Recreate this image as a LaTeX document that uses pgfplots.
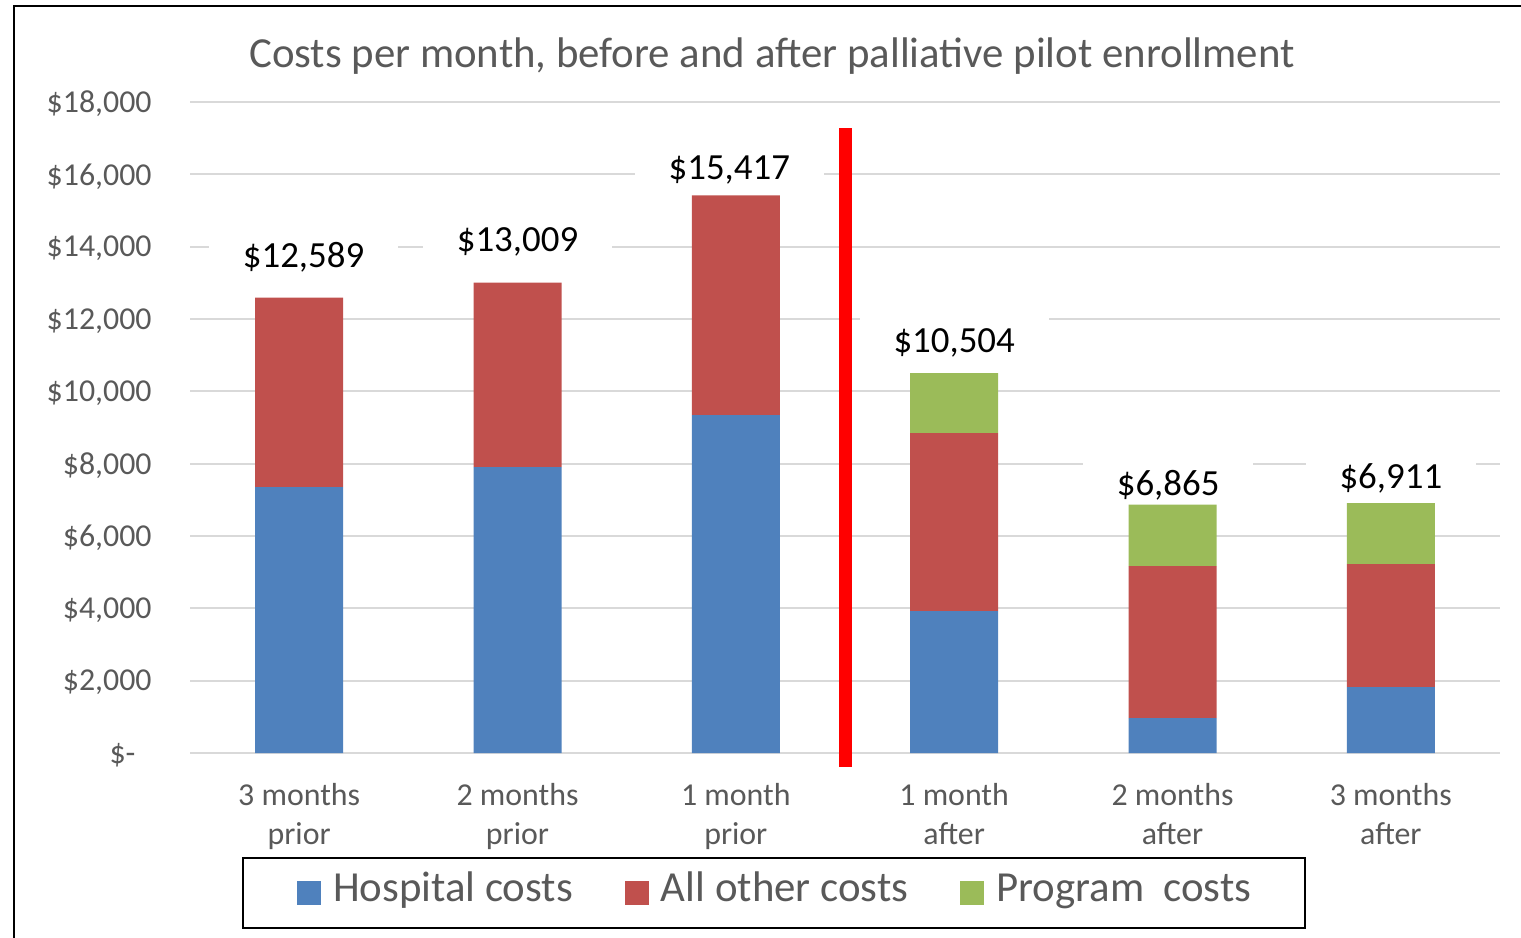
\documentclass[border=0pt]{standalone}
\usepackage{pgfplots}
\pgfplotsset{compat=1.18}
\usepackage{fontspec}
\setmainfont{Carlito}
\definecolor{hosp}{HTML}{4F81BD}
\definecolor{other}{HTML}{C0504D}
\definecolor{prog}{HTML}{9BBB59}
\definecolor{txt}{HTML}{595959}
\definecolor{gridc}{HTML}{D9D9D9}
\pgfplotsset{sqleg/.style={legend image code/.code={\fill[##1,draw=none] (0bp,-6bp) rectangle (12bp,6bp);}}}

\begin{document}
\begin{tikzpicture}
\useasboundingbox (0,0) rectangle (760.5bp,-469bp);
\draw[line width=1.2bp] (7bp,-480bp) -- (7bp,-3bp) -- (775bp,-3bp);
\node[text=txt, font=\fontsize{21.5}{25}\selectfont] at (386bp,-28bp)
  {Costs per month, before and after palliative pilot enrollment};
\begin{axis}[
  at={(95bp,-376.5bp)}, anchor=south west,
  scale only axis, width=655bp, height=325.5bp,
  ybar stacked, bar width=44bp,
  xmin=-0.5, xmax=5.5, ymin=0, ymax=18000,
  clip=false,
  scaled y ticks=false,
  axis line style={draw=none},
  major tick length=0pt,
  ymajorgrids, grid style={gridc, line width=1bp},
  ytick={0,2000,4000,6000,8000,10000,12000,14000,16000,18000},
  yticklabels={\$-\hphantom{0},{\$2,000},{\$4,000},{\$6,000},{\$8,000},{\$10,000},{\$12,000},{\$14,000},{\$16,000},{\$18,000}},
  yticklabel style={text=txt, font=\fontsize{16}{19.5}\selectfont, anchor=east, inner sep=0pt, xshift=-19bp, yshift=-1bp},
  xtick={0,1,2,3,4,5},
  xticklabels={3 months\\prior,2 months\\prior,1 month\\prior,1 month\\after,2 months\\after,3 months\\after},
  xticklabel style={text=txt, font=\fontsize{16}{19.5}\selectfont, align=center, anchor=north, inner sep=0pt, yshift=-15bp},
  legend columns=3,
  legend cell align=left,
  legend style={at={(0.0397,-0.215)}, anchor=west, draw=black, line width=1bp,
    text=txt, font=\fontsize{21.5}{25}\selectfont,
    inner xsep=27bp, inner ysep=8bp,
    nodes={inner sep=0pt, text height=14bp, text depth=5bp},
    /tikz/every odd column/.append style={column sep=6bp},
    /tikz/every even column/.append style={column sep=26bp}},
]
\addplot[fill=hosp, draw=none, sqleg] coordinates {(0,7354) (1,7907) (2,9345) (3,3926) (4,968) (5,1825)};
\addplot[fill=other, draw=none, sqleg] coordinates {(0,5235) (1,5102) (2,6072) (3,4921) (4,4202) (5,3400)};
\addplot[fill=prog, draw=none, sqleg] coordinates {(0,0) (1,0) (2,0) (3,1657) (4,1695) (5,1686)};
\legend{Hospital costs, All other costs, Program\ \ costs}
\draw[color=red, line width=6.5bp] (axis cs:2.5,17280) -- (axis cs:2.5,-387);
\tikzset{dl/.style={fill=white, inner xsep=17bp, inner ysep=6bp, font=\fontsize{18.5}{22}\selectfont}}
\node[dl] at (axis cs:0.02,13720) {\$12,589};
\node[dl] at (axis cs:1.0,14130) {\$13,009};
\node[dl] at (axis cs:1.97,16120) {\$15,417};
\node[dl] at (axis cs:3.0,11340) {\$10,504};
\node[dl] at (axis cs:3.98,7410) {\$6,865};
\node[dl] at (axis cs:5.0,7580) {\$6,911};
\end{axis}
\end{tikzpicture}
\end{document}
